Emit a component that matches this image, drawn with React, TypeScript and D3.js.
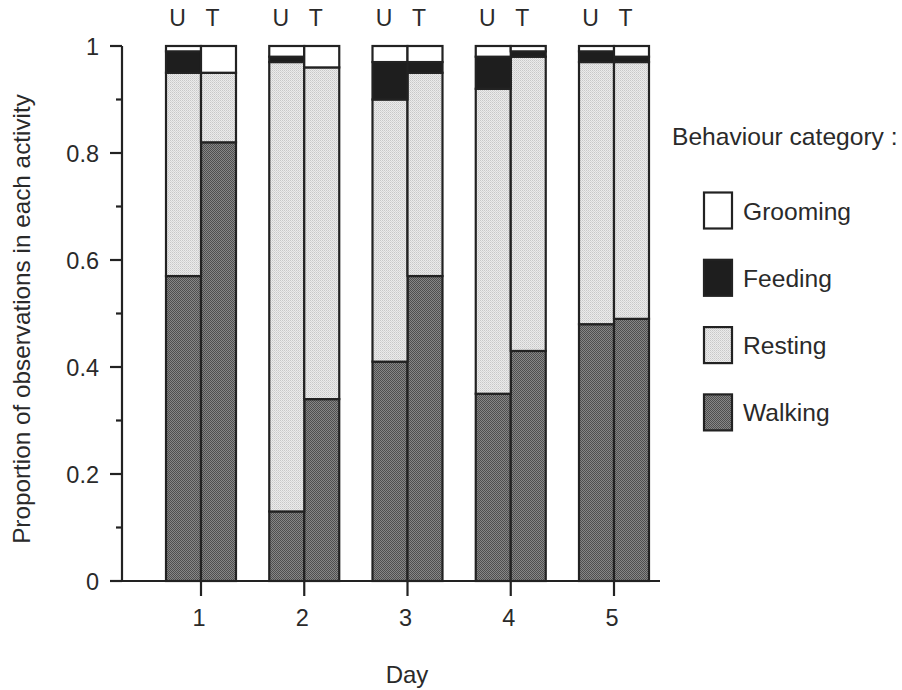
import React from "react";
import * as d3 from "d3";

const days = [1, 2, 3, 4, 5];
const treatments = ["U", "T"];
const categories = ["Walking", "Resting", "Feeding", "Grooming"];
const legendOrder = ["Grooming", "Feeding", "Resting", "Walking"];
const yTicks = [0, 0.1, 0.2, 0.3, 0.4, 0.5, 0.6, 0.7, 0.8, 0.9, 1];
const yTickLabels = ["0", "", "0.2", "", "0.4", "", "0.6", "", "0.8", "", "1"];

// proportions per day, order days 1..5
const walkingU = [0.57, 0.13, 0.41, 0.35, 0.48];
const restingU = [0.38, 0.84, 0.49, 0.57, 0.49];
const feedingU = [0.04, 0.01, 0.07, 0.06, 0.02];
const groomingU = [0.01, 0.02, 0.03, 0.02, 0.01];

const walkingT = [0.82, 0.34, 0.57, 0.43, 0.49];
const restingT = [0.13, 0.62, 0.38, 0.55, 0.48];
const feedingT = [0.0, 0.0, 0.02, 0.01, 0.01];
const groomingT = [0.05, 0.04, 0.03, 0.01, 0.02];

const fills: Record<string, string> = {
  Walking: "url(#patWalking)",
  Resting: "url(#patResting)",
  Feeding: "#1e1e1e",
  Grooming: "#ffffff",
};

const ink = "#222";
const txt = "#2a2a2a";
const font = "'Liberation Sans', Arial, Helvetica, sans-serif";

export default function App() {
  const rows: any[] = [];
  days.forEach((d, i) => {
    rows.push({ day: d, tr: "U", Walking: walkingU[i], Resting: restingU[i], Feeding: feedingU[i], Grooming: groomingU[i] });
    rows.push({ day: d, tr: "T", Walking: walkingT[i], Resting: restingT[i], Feeding: feedingT[i], Grooming: groomingT[i] });
  });
  const series = d3.stack().keys(categories)(rows as any);

  const x = d3.scalePoint<number>().domain(days).range([201, 614]);
  const inner = d3.scaleBand<string>().domain(treatments).range([-35, 35]);
  const y = d3.scaleLinear().domain([0, 1]).range([581, 46]);

  const axisX0 = 122;
  const axisX1 = 660;

  return (
    <svg width={902} height={690} style={{ position: "absolute", left: 0, top: 0, background: "#fff" }} fontFamily={font}>
      <defs>
        <pattern id="patWalking" width={2} height={2} patternUnits="userSpaceOnUse">
          <rect width={2} height={2} fill="#878787" />
          <rect width={1} height={1} fill="#4f4f4f" />
          <rect x={1} y={1} width={1} height={1} fill="#4f4f4f" />
        </pattern>
        <pattern id="patResting" width={2} height={2} patternUnits="userSpaceOnUse">
          <rect width={2} height={2} fill="#ebebeb" />
          <rect width={1} height={1} fill="#c8c8c8" />
          <rect x={1} y={1} width={1} height={1} fill="#d6d6d6" />
        </pattern>
      </defs>

      {/* bars */}
      {series.map((s) => (
        <g key={s.key}>
          {s.map((seg: any, j: number) => {
            const r = rows[j];
            const h = y(seg[0]) - y(seg[1]);
            if (h <= 0) return null;
            return (
              <rect
                key={j}
                x={(x(r.day) as number) + (inner(r.tr) as number)}
                y={y(seg[1])}
                width={inner.bandwidth()}
                height={h}
                fill={fills[s.key]}
                stroke={ink}
                strokeWidth={2.2}
              />
            );
          })}
        </g>
      ))}

      {/* U / T labels */}
      {days.map((d) =>
        treatments.map((t) => (
          <text
            key={d + t}
            x={(x(d) as number) + (inner(t) as number) + inner.bandwidth() / 2 - 6}
            y={26}
            textAnchor="middle"
            fontSize={23}
            fill={txt}
          >
            {t}
          </text>
        ))
      )}

      {/* y axis */}
      <line x1={axisX0} x2={axisX0} y1={y(1)} y2={y(0)} stroke={ink} strokeWidth={2.2} />
      {yTicks.map((t, i) => (
        <g key={t}>
          <line
            x1={axisX0 - (yTickLabels[i] ? 12 : 6)}
            x2={axisX0}
            y1={y(t)}
            y2={y(t)}
            stroke={ink}
            strokeWidth={2.2}
          />
          {yTickLabels[i] && (
            <text x={99} y={y(t) + 9} textAnchor="end" fontSize={23.5} fill={txt}>
              {yTickLabels[i]}
            </text>
          )}
        </g>
      ))}

      {/* x axis */}
      <line x1={axisX0 - 1} x2={axisX1} y1={y(0)} y2={y(0)} stroke={ink} strokeWidth={2.2} />
      {days.map((d) => (
        <g key={d}>
          <line x1={x(d)} x2={x(d)} y1={y(0)} y2={y(0) + 15} stroke={ink} strokeWidth={2.2} />
          <text x={(x(d) as number) - 2} y={626} textAnchor="middle" fontSize={23.5} fill={txt}>
            {d}
          </text>
        </g>
      ))}

      <text x={407} y={683} textAnchor="middle" fontSize={24} fill={txt}>
        Day
      </text>
      <text
        transform={`translate(30,${319}) rotate(-90)`}
        textAnchor="middle"
        fontSize={24.3}
        fill={txt}
      >
        Proportion of observations in each activity
      </text>

      {/* legend */}
      <text x={672} y={145} fontSize={24.6} fill={txt}>
        Behaviour category :
      </text>
      {legendOrder.map((c, i) => {
        const cy = 210.5 + i * 67.3;
        return (
          <g key={c}>
            <rect x={704} y={cy - 18} width={28} height={36} fill={fills[c]} stroke={ink} strokeWidth={2.2} />
            <text x={743} y={cy + 9} fontSize={24.6} fill={txt}>
              {c}
            </text>
          </g>
        );
      })}
    </svg>
  );
}
